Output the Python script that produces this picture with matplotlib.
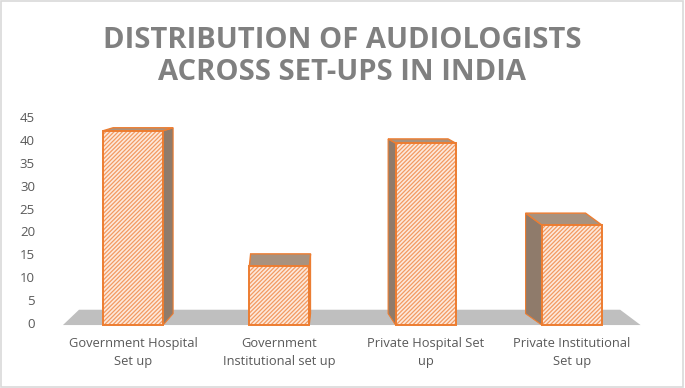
import matplotlib
matplotlib.use("Agg")
import matplotlib.pyplot as plt
from matplotlib.patches import Polygon, Rectangle
import numpy as np

categories = ["Government Hospital\nSet up", "Government\nInstitutional set up",
              "Private Hospital Set\nup", "Private Institutional\nSet up"]
values = [42, 12.5, 39.3, 21.4]
yticks = [0, 5, 10, 15, 20, 25, 30, 35, 40, 45]
title = "DISTRIBUTION OF AUDIOLOGISTS\nACROSS SET-UPS IN INDIA"

plt.rcParams["hatch.linewidth"] = 0.9

W, H = 685, 388
fig = plt.figure(figsize=(W / 100, H / 100), dpi=100)
fig.patch.set_facecolor("white")
fig.add_artist(Rectangle((0.002, 0.003), 0.995, 0.994, transform=fig.transFigure,
                         fill=False, edgecolor="#d9d9d9", linewidth=1.2))

ax = fig.add_axes([60 / W, 65 / H, 585 / W, 206 / H])
ax.set_xlim(-0.5, 3.5)
ax.set_ylim(0, 45)
for s in ax.spines.values():
    s.set_visible(False)
ax.set_yticks(yticks)
ax.set_yticklabels([str(t) for t in yticks], fontsize=9.5, color="#595959", family="Open Sans")
ax.tick_params(axis="y", length=0, pad=18)
x = np.arange(len(categories))
ax.set_xticks(x)
ax.set_xticklabels(categories, fontsize=9.3, color="#595959", family="Open Sans", linespacing=1.5)
ax.tick_params(axis="x", length=0, pad=10)

# floor
ybase = -0.45
floor = Polygon([(-0.48, ybase), (3.47, ybase), (3.33, 2.9), (-0.37, 2.9)],
                closed=True, facecolor="#bfbfbf", edgecolor="none", clip_on=False, zorder=1)
ax.add_patch(floor)

orange = "#ed7d31"
face = "#fde9dc"
side_col = "#8f7b6b"
top_col = "#a8927f"
bw = 0.41
vmax = max(values)
for xi, v in zip(x, values):
    dx = -(xi - 1.14) * 0.06
    dy = 0.65 + 1.95 * np.clip((vmax - v) / 20, 0, 1)
    l, r = xi - bw / 2, xi + bw / 2
    ex = r if dx > 0 else l
    side = Polygon([(ex, ybase), (ex, v), (ex + dx, v + dy), (ex + dx, ybase + 2.5)],
                   closed=True, facecolor=side_col, edgecolor=orange, linewidth=0.8,
                   clip_on=False, zorder=2)
    ax.add_patch(side)
    top = Polygon([(l, v), (r, v), (r + dx, v + dy), (l + dx, v + dy)],
                  closed=True, facecolor=top_col, edgecolor=orange, linewidth=1.0,
                  clip_on=False, zorder=2)
    ax.add_patch(top)
    ax.bar(xi, v - ybase, bottom=ybase, width=bw, color=face, edgecolor="#f29a62",
           hatch="////////", linewidth=0, zorder=3, clip_on=False)
    ax.bar(xi, v - ybase, bottom=ybase, width=bw, fill=False, edgecolor=orange,
           linewidth=1.4, zorder=4, clip_on=False)

fig.text(0.5, 0.855, title, ha="center", va="center", fontsize=21, fontweight="bold",
         color="#808080", family="Open Sans", linespacing=1.12)

fig.savefig("out.png", dpi=100)
